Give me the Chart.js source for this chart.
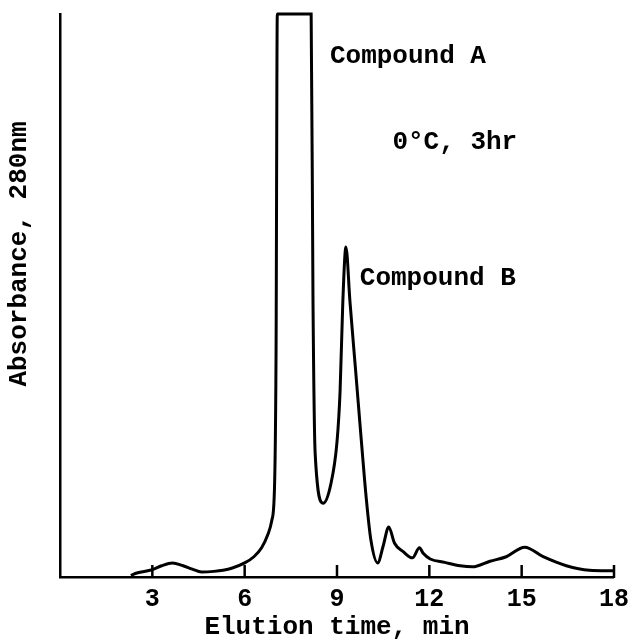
<!DOCTYPE html>
<html>
<head>
<meta charset="utf-8">
<script src="https://cdn.jsdelivr.net/npm/chart.js@4.4.1/dist/chart.umd.min.js"></script>
<style>
  body { margin: 0; background: #fff; }
  #wrap { width: 637px; height: 643px; position: relative; }
</style>
</head>
<body>
<div id="wrap"><canvas id="chrom"></canvas></div>
<script>
// Elution profile (time in min, absorbance in % of full scale)
const times = [2.3, 2.5, 3.0, 3.3, 3.65, 4.0, 4.3, 4.6, 5.0, 5.3, 5.6, 6.0, 6.3, 6.55, 6.75, 6.88, 6.97, 7.02, 7.06,
  8.16, 8.22, 8.29, 8.55, 8.8, 9.0, 9.1, 9.19, 9.29, 9.42, 9.6, 9.77, 9.95, 10.1, 10.32, 10.5, 10.68, 10.87,
  11.15, 11.45, 11.68, 11.8, 12.03, 12.5, 13.0, 13.4, 13.97, 14.5, 15.1, 15.7, 16.45, 17.2, 17.97];
const absorbance = [0.3, 0.7, 1.3, 2.0, 2.5, 2.0, 1.4, 0.9, 1.0, 1.2, 1.6, 2.5, 3.6, 5.2, 7.5, 10, 16, 40, 100,
  100, 49, 22, 13.1, 16.5, 24, 33, 49, 58.6, 49, 37, 25.6, 14, 6.6, 2.5, 5.5, 8.9, 6.0,
  4.5, 3.4, 5.2, 4.2, 3.2, 2.6, 2.0, 1.8, 2.8, 3.6, 5.3, 3.6, 2.0, 1.2, 1.1];
const xTicks = [3, 6, 9, 12, 15, 18];

// labels placed in data coordinates
const notes = [
  { text: 'Compound A', t: 8.77, v: 92.5 },
  { text: '0°C, 3hr', t: 10.8, v: 77.1 },
  { text: 'Compound B', t: 9.74, v: 53.1 }
];

const FONT = '"Liberation Mono", "DejaVu Sans Mono", monospace';

const points = times.map((t, i) => ({ x: t, y: absorbance[i] }));

const extras = {
  id: 'extras',
  afterDatasetsDraw(chart) {
    const { ctx, scales: { x, y } } = chart;
    ctx.save();
    // inward tick marks
    ctx.strokeStyle = '#000';
    ctx.lineWidth = 2.5;
    xTicks.forEach(t => {
      const px = x.getPixelForValue(t);
      ctx.beginPath();
      ctx.moveTo(px, y.getPixelForValue(0) + 1);
      ctx.lineTo(px, y.getPixelForValue(0) - 12);
      ctx.stroke();
    });
    // annotations
    ctx.fillStyle = '#000';
    ctx.font = 'bold 26px ' + FONT;
    ctx.textBaseline = 'middle';
    ctx.textAlign = 'left';
    notes.forEach(n => {
      ctx.fillText(n.text, x.getPixelForValue(n.t), y.getPixelForValue(n.v));
    });
    // axis titles
    ctx.textAlign = 'center';
    ctx.fillText('Elution time, min', (x.left + x.right) / 2, 627);
    ctx.translate(19, 254);
    ctx.rotate(-Math.PI / 2);
    ctx.fillText('Absorbance, 280nm', 0, 0);
    ctx.restore();
  }
};

new Chart(document.getElementById('chrom'), {
  type: 'line',
  data: {
    datasets: [{
      data: points,
      borderColor: '#000',
      borderWidth: 3,
      pointRadius: 0,
      fill: false,
      clip: false,
      cubicInterpolationMode: 'monotone'
    }]
  },
  options: {
    responsive: true,
    maintainAspectRatio: false,
    animation: false,
    layout: { padding: { top: 14, right: 20, left: 0, bottom: 0 } },
    plugins: { legend: { display: false }, tooltip: { enabled: false } },
    scales: {
      x: {
        type: 'linear',
        min: 0,
        max: 18,
        afterFit(scale) { scale.height = 66; },
        afterBuildTicks(scale) { scale.ticks = xTicks.map(v => ({ value: v })); },
        grid: { display: false, drawTicks: false },
        border: { display: true, color: '#000', width: 2.5 },
        ticks: {
          padding: 8,
          color: '#000',
          font: { family: FONT, size: 25, weight: 'bold' }
        }
      },
      y: {
        min: 0,
        max: 100,
        afterFit(scale) { scale.width = 60; },
        grid: { display: false, drawTicks: false },
        border: { display: true, color: '#000', width: 2.5 },
        ticks: { display: false }
      }
    }
  },
  plugins: [extras]
});
</script>
</body>
</html>
